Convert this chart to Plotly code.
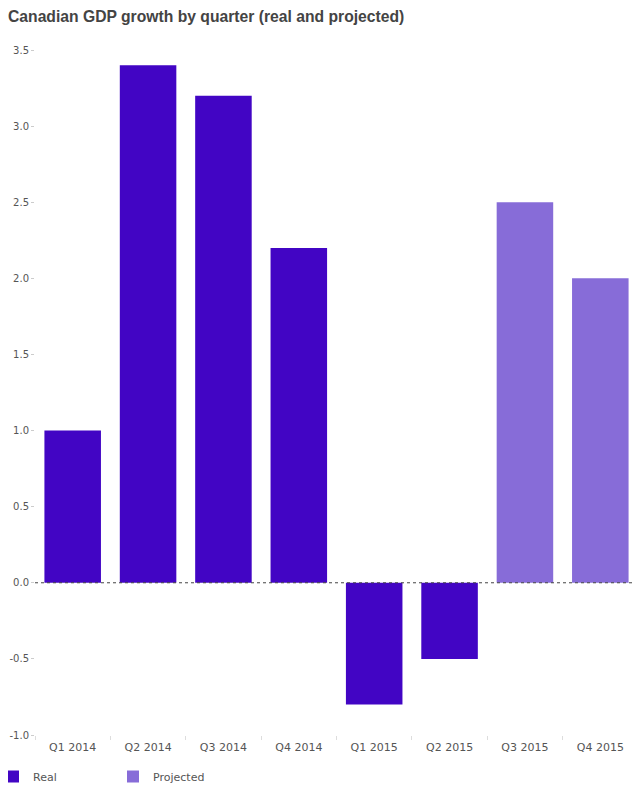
import plotly.graph_objects as go

# GDP growth per quarter, percent
real_quarters = ["Q1 2014", "Q2 2014", "Q3 2014", "Q4 2014", "Q1 2015", "Q2 2015"]
real_values = [1.0, 3.4, 3.2, 2.2, -0.8, -0.5]
proj_quarters = ["Q3 2015", "Q4 2015"]
proj_values = [2.5, 2.0]
y_ticks = [-1.0, -0.5, 0.0, 0.5, 1.0, 1.5, 2.0, 2.5, 3.0, 3.5]

fig = go.Figure()
fig.add_trace(go.Bar(x=real_quarters, y=real_values, name="Real",
                     marker=dict(color="#4205c4", line=dict(width=0))))
fig.add_trace(go.Bar(x=proj_quarters, y=proj_values, name="Projected",
                     marker=dict(color="#876cd8", line=dict(width=0))))

# page body has an 8px margin, so the figure is drawn 8px smaller
fig.update_layout(
    width=632, height=785,
    barmode="relative", bargap=0.25,
    plot_bgcolor="white", paper_bgcolor="white",
    font=dict(family="DejaVu Sans", size=11, color="#555"),
    title=dict(text="<b>Canadian GDP growth by quarter (real and projected)</b>",
               x=0.0, xanchor="left", y=1 - 9 / 785, yanchor="middle",
               font=dict(family="Liberation Sans", size=15.7, color="#444")),
    margin=dict(l=27, r=2, t=42, b=58),
    showlegend=True,
    legend=dict(orientation="h", xref="container", yref="container",
                x=0, xanchor="left", y=1 - 754 / 785, yanchor="top",
                indentation=-15,
                font=dict(size=11, color="#555"), entrywidth=90,
                traceorder="normal"),
    xaxis=dict(categoryorder="array",
               categoryarray=real_quarters + proj_quarters,
               showgrid=False, showline=False, zeroline=False,
               tickson="boundaries", ticks="outside", ticklen=4,
               tickcolor="#ddd", tickfont=dict(size=11),
               ticklabelstandoff=4, automargin=False),
    yaxis=dict(range=[-1.0, 3.5], tickvals=y_ticks,
               ticktext=["%.1f" % v for v in y_ticks],
               showgrid=False, showline=False,
               zeroline=False, automargin=False,
               ticks="outside", ticklen=3, tickcolor="#ccc",
               tickfont=dict(size=10)),
)
fig.add_hline(y=0, line=dict(color="#444", width=1, dash="dot"), layer="above")

fig.write_html("out.html")
